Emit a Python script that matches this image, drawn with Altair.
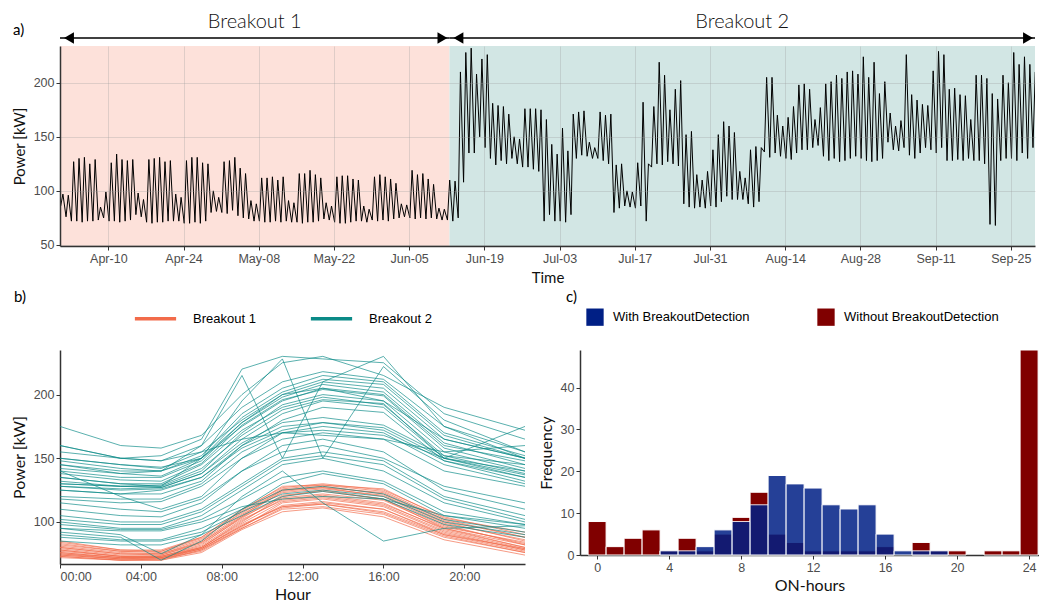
import altair as alt
import pandas as pd

# a) hourly power, summarised per day: night base and daytime peak (kW), 1 Apr - 29 Sep 2017
day_high = [
    97, 96, 127, 130, 131, 125, 129, 85, 99, 126, 134, 129, 128, 129, 98, 92,
    129, 130, 131, 127, 128, 97, 94, 128, 131, 131, 126, 125, 100, 94, 127, 128,
    131, 121, 116, 91, 88, 112, 112, 113, 110, 113, 91, 89, 116, 116, 119, 115,
    112, 89, 86, 113, 114, 114, 111, 110, 86, 83, 113, 115, 113, 111, 107, 88,
    87, 119, 115, 116, 111, 106, 84, 83, 110, 109, 210, 228, 232, 208, 222, 226,
    181, 179, 178, 171, 150, 148, 176, 176, 176, 175, 166, 143, 134, 158, 137, 171,
    173, 174, 145, 140, 173, 170, 171, 124, 125, 100, 99, 126, 182, 125, 178, 219,
    207, 175, 194, 202, 152, 155, 115, 110, 118, 138, 152, 164, 160, 154, 118, 112,
    138, 141, 140, 205, 205, 170, 160, 168, 178, 198, 199, 194, 166, 177, 199, 201,
    207, 204, 210, 211, 208, 224, 205, 219, 190, 201, 172, 160, 165, 226, 189, 184,
    180, 179, 211, 229, 226, 194, 195, 189, 188, 166, 207, 207, 204, 190, 185, 207,
    200, 228, 217, 224, 217, 210,
]
day_low = [
    86, 76, 72, 72, 71, 72, 72, 73, 75, 72, 72, 71, 72, 73, 78, 76,
    71, 70, 71, 71, 72, 72, 72, 70, 70, 71, 70, 72, 80, 81, 80, 79,
    82, 77, 75, 74, 72, 72, 71, 71, 72, 71, 72, 71, 71, 70, 71, 71,
    72, 74, 73, 71, 70, 70, 71, 72, 72, 71, 73, 72, 73, 72, 74, 75,
    76, 75, 74, 75, 74, 75, 74, 73, 73, 72, 75, 108, 135, 135, 150, 140,
    130, 124, 128, 125, 130, 125, 122, 122, 120, 118, 72, 78, 72, 72, 71, 78,
    130, 133, 132, 130, 130, 128, 125, 80, 84, 86, 85, 84, 86, 72, 122, 125,
    124, 127, 125, 123, 88, 85, 84, 85, 84, 86, 85, 90, 95, 92, 92, 92,
    88, 85, 90, 136, 131, 135, 132, 130, 129, 135, 138, 138, 140, 142, 132, 128,
    130, 127, 128, 130, 132, 130, 128, 127, 128, 130, 145, 138, 137, 140, 133, 130,
    135, 140, 138, 135, 140, 128, 128, 129, 128, 130, 128, 128, 125, 69, 68, 128,
    130, 130, 128, 135, 130, 140,
]
first_day = "2017-04-01"
breakout_start = "2017-04-01 00:00"
breakout_change = "2017-06-12 12:00"
breakout_end = "2017-09-29 12:00"
segment_labels = ["Breakout 1", "Breakout 2"]

# b) daily load profiles (kW) at these hours
profile_hours = [0, 3, 5, 7, 9, 11, 13, 16, 19, 23]
profiles_b1 = [
    [75, 72, 72, 80, 100, 120, 125, 118, 95, 80],
    [78, 73, 73, 82, 104, 124, 127, 120, 98, 82],
    [73, 70, 71, 78, 96, 115, 118, 112, 92, 78],
    [80, 75, 75, 84, 105, 125, 128, 122, 100, 85],
    [76, 72, 72, 79, 98, 112, 114, 108, 90, 77],
    [82, 77, 76, 86, 108, 126, 129, 124, 102, 88],
    [74, 71, 71, 77, 95, 110, 112, 106, 88, 76],
    [85, 78, 77, 88, 110, 127, 130, 125, 104, 90],
    [77, 73, 72, 80, 101, 118, 121, 115, 94, 80],
    [72, 70, 70, 76, 94, 108, 111, 104, 86, 74],
    [79, 74, 74, 83, 103, 121, 124, 118, 97, 83],
    [81, 76, 75, 85, 106, 123, 126, 121, 99, 86],
    [75, 71, 72, 79, 97, 113, 116, 110, 91, 78],
    [83, 77, 77, 87, 107, 125, 127, 123, 101, 88],
    [76, 72, 73, 80, 99, 116, 119, 113, 93, 79],
    [73, 70, 70, 78, 95, 111, 114, 107, 89, 76],
    [80, 75, 74, 84, 104, 119, 122, 117, 96, 84],
    [84, 78, 78, 88, 109, 128, 129, 126, 103, 92],
    [74, 71, 71, 79, 97, 112, 115, 110, 90, 79],
    [78, 73, 73, 81, 102, 117, 120, 114, 95, 82],
]
profiles_b2 = [
    [145, 140, 140, 150, 175, 195, 205, 200, 160, 148],
    [130, 128, 128, 140, 170, 192, 200, 195, 155, 140],
    [150, 145, 142, 155, 180, 200, 210, 205, 165, 150],
    [135, 130, 130, 145, 172, 190, 198, 192, 152, 138],
    [140, 135, 135, 148, 178, 198, 208, 202, 162, 145],
    [128, 126, 127, 138, 165, 185, 195, 190, 150, 135],
    [148, 142, 140, 152, 185, 205, 215, 210, 170, 152],
    [132, 128, 129, 142, 168, 188, 196, 193, 150, 137],
    [155, 150, 148, 160, 190, 210, 218, 212, 175, 155],
    [138, 133, 132, 146, 176, 196, 204, 199, 158, 142],
    [142, 138, 136, 150, 182, 202, 212, 208, 168, 150],
    [125, 122, 125, 135, 160, 180, 190, 186, 148, 132],
    [160, 150, 152, 165, 220, 230, 228, 225, 185, 165],
    [175, 160, 158, 168, 200, 225, 230, 215, 190, 172],
    [145, 138, 140, 160, 215, 150, 210, 230, 175, 150],
    [135, 130, 128, 150, 195, 228, 150, 222, 180, 155],
    [120, 118, 118, 130, 155, 170, 175, 170, 145, 130],
    [128, 125, 126, 135, 158, 172, 178, 172, 148, 135],
    [118, 115, 116, 128, 150, 165, 170, 165, 140, 128],
    [125, 122, 122, 132, 160, 175, 178, 174, 150, 140],
    [130, 128, 127, 138, 162, 178, 182, 176, 152, 145],
    [95, 93, 93, 100, 112, 118, 120, 118, 105, 98],
    [88, 85, 85, 92, 108, 122, 125, 120, 100, 90],
    [100, 95, 95, 105, 125, 145, 150, 140, 115, 100],
    [110, 105, 104, 115, 140, 160, 165, 155, 125, 110],
    [90, 86, 86, 95, 110, 125, 128, 122, 102, 92],
    [85, 82, 82, 90, 105, 120, 124, 118, 98, 88],
    [105, 100, 100, 110, 130, 150, 155, 148, 120, 105],
    [95, 90, 75, 90, 120, 140, 115, 85, 95, 97],
    [98, 94, 94, 102, 118, 135, 140, 132, 108, 98],
    [115, 110, 108, 118, 140, 155, 160, 150, 128, 115],
    [92, 88, 70, 85, 110, 130, 138, 130, 105, 95],
    [102, 98, 98, 108, 128, 148, 152, 145, 118, 102],
    [140, 120, 110, 120, 150, 170, 172, 168, 150, 175],
    [160, 150, 148, 155, 165, 170, 168, 165, 155, 160],
    [150, 145, 143, 150, 178, 200, 205, 195, 165, 150],
]

# c) histogram of daily ON-hours
on_hours = list(range(25))
freq_without = [8, 2, 4, 6, 1, 4, 1, 5, 9, 15, 5, 3, 1, 1, 1, 1, 2, 0, 3, 1, 1, 0, 1, 1, 49]
freq_with = [0, 0, 0, 0, 1, 1, 2, 6, 8, 12, 19, 17, 16, 12, 11, 12, 5, 1, 1, 1, 0, 0, 0, 0, 0]
methods = ["With BreakoutDetection", "Without BreakoutDetection"]

TITLE_FONT = "Lato"
TICK_FONT = "Liberation Sans"
ORANGE, TEAL = "#f26b4a", "#0b8a87"

# ---------- panel a ----------
rows = []
for d, lo, hi in zip(pd.date_range(first_day, periods=len(day_high), freq="D"), day_low, day_high):
    rows.append({"t": d + pd.Timedelta(hours=3), "p": lo})
    rows.append({"t": d + pd.Timedelta(hours=13), "p": hi})
ts = pd.DataFrame(rows)

t0, t1, t2 = pd.Timestamp(breakout_start), pd.Timestamp(breakout_change), pd.Timestamp(breakout_end)
seg = pd.DataFrame({
    "start": [t0, t1], "end": [t1, t2], "mid": [t0 + (t1 - t0) / 2, t1 + (t2 - t1) / 2],
    "label": segment_labels,
})


def dt(ts_):
    return alt.DateTime(year=ts_.year, month=ts_.month, date=ts_.day, hours=ts_.hour)


tick_days = [dt(d) for d in pd.date_range("2017-04-10", "2017-09-25", freq="14D")]
x_time = alt.X("t:T", title="Time",
               scale=alt.Scale(domain=[dt(t0), dt(t2)]),
               axis=alt.Axis(values=tick_days, format="%b-%d", grid=True, zindex=1))

shade1 = alt.Chart(seg.iloc[[0]]).mark_rect(color="#fde1da").encode(x="start:T", x2="end:T")
shade2 = alt.Chart(seg.iloc[[1]]).mark_rect(color="#d2e6e4").encode(x="start:T", x2="end:T")

power_line = alt.Chart(ts).mark_line(color="black", strokeWidth=1, clip=True).encode(
    x=x_time,
    y=alt.Y("p:Q", title="Power [kW]",
            scale=alt.Scale(domain=[49, 234], nice=False, zero=False),
            axis=alt.Axis(values=[50, 100, 150, 200], grid=True, zindex=1)),
)

arrows = alt.Chart(seg).mark_rule(color="black", strokeWidth=1.5).encode(
    x="start:T", x2="end:T", y=alt.value(-8))
head_left = alt.Chart(seg).mark_point(shape="triangle-left", filled=True, color="black",
                                      size=130, opacity=1, xOffset=9).encode(
    x="start:T", y=alt.value(-8))
head_right = alt.Chart(seg).mark_point(shape="triangle-right", filled=True, color="black",
                                       size=130, opacity=1, xOffset=-7).encode(
    x="end:T", y=alt.value(-8))
seg_text = alt.Chart(seg).mark_text(font=TITLE_FONT, fontSize=20, fontWeight=300,
                                    color="#111").encode(
    x="mid:T", y=alt.value(-24), text="label:N")
tag_a = alt.Chart(pd.DataFrame({"s": ["a)"]})).mark_text(
    font=TITLE_FONT, fontSize=15, align="left").encode(
    x=alt.value(-47), y=alt.value(-16), text="s:N")

panel_a = alt.layer(shade1, shade2, power_line, arrows, head_left, head_right,
                    seg_text, tag_a).properties(width=975, height=200)

# ---------- panel b ----------
prow = []
for name, profs in zip(segment_labels, [profiles_b1, profiles_b2]):
    for i, prof in enumerate(profs):
        for h, v in zip(profile_hours, prof):
            prow.append({"day": f"{name}-{i}", "breakout": name, "hour": h, "p": v})
prof_df = pd.DataFrame(prow)

color_b = alt.Color("breakout:N", title="",
                    scale=alt.Scale(domain=segment_labels, range=[ORANGE, TEAL]),
                    legend=alt.Legend(orient="none", legendX=73, legendY=-54,
                                      direction="horizontal", symbolType="stroke",
                                      symbolSize=1700, symbolStrokeWidth=3.5,
                                      symbolOpacity=1,
                                      labelFontSize=13, labelFont=TICK_FONT,
                                      labelOffset=15, columnPadding=47))


def profile_layer(name):
    return alt.Chart(prof_df).transform_filter(alt.datum.breakout == name).mark_line(
        strokeWidth=0.8, opacity=0.85).encode(
        x=alt.X("hour:Q", title="Hour", scale=alt.Scale(domain=[0, 23], nice=False),
                axis=alt.Axis(values=[0, 4, 8, 12, 16, 20], titleFontSize=16, titlePadding=4,
                              labelExpr="(datum.value < 10 ? '0' : '') + datum.value + ':00'")),
        y=alt.Y("p:Q", title="Power [kW]",
                scale=alt.Scale(domain=[67, 235], nice=False, zero=False),
                axis=alt.Axis(values=[100, 150, 200], titleFontSize=16)),
        color=color_b,
        detail="day:N",
        order="hour:Q",
    )


tag_b = alt.Chart(pd.DataFrame({"s": ["b)"]})).mark_text(
    font=TITLE_FONT, fontSize=15, align="left").encode(
    x=alt.value(-46), y=alt.value(-53), text="s:N")

panel_b = alt.layer(profile_layer(segment_labels[0]), profile_layer(segment_labels[1]),
                    tag_b).properties(width=465, height=214)

# ---------- panel c ----------
hrow = []
for name, counts in zip(methods, [freq_with, freq_without]):
    for h, c in zip(on_hours, counts):
        if c > 0:
            hrow.append({"method": name, "lo": h - 0.5, "hi": h + 0.5, "n": c})
hist_df = pd.DataFrame(hrow)

color_c = alt.Color("method:N", title="",
                    scale=alt.Scale(domain=methods, range=["#001f85", "#800000"]),
                    legend=alt.Legend(orient="none", legendX=6, legendY=-42,
                                      direction="horizontal", symbolType="square",
                                      symbolSize=300, symbolStrokeWidth=0,
                                      symbolOpacity=1,
                                      labelFontSize=13, labelFont=TICK_FONT,
                                      labelOffset=9, columnPadding=67, labelLimit=300))


def hist_layer(name, opacity):
    return alt.Chart(hist_df).transform_filter(alt.datum.method == name).mark_bar(
        stroke="white", strokeWidth=1, opacity=opacity).encode(
        x=alt.X("lo:Q", title="ON-hours",
                scale=alt.Scale(domain=[-0.95, 24.55], nice=False, zero=False),
                axis=alt.Axis(values=[0, 4, 8, 12, 16, 20, 24], titleFontSize=16,
                              titlePadding=4)),
        x2="hi:Q",
        y=alt.Y("n:Q", title="Frequency", scale=alt.Scale(domain=[0, 49], nice=False),
                axis=alt.Axis(values=[0, 10, 20, 30, 40], titleFontSize=16)),
        y2=alt.datum(0),
        color=color_c,
    )


tag_c = alt.Chart(pd.DataFrame({"s": ["c)"]})).mark_text(
    font=TITLE_FONT, fontSize=15, align="left").encode(
    x=alt.value(-14), y=alt.value(-53), text="s:N")

panel_c = alt.layer(hist_layer(methods[1], 1), hist_layer(methods[0], 0.85),
                    tag_c).properties(width=459, height=205)

bottom = alt.hconcat(panel_b, panel_c, spacing=11).resolve_scale(color="independent")

chart = alt.vconcat(panel_a, bottom, spacing=4).resolve_scale(
    color="independent"
).properties(
    padding={"left": 3, "top": 4, "right": 0, "bottom": 0}
).configure_view(
    strokeWidth=0
).configure_axis(
    labelFont=TICK_FONT, labelFontSize=12.5, labelColor="#4d4d4d",
    titleFont=TITLE_FONT, titleFontSize=15, titleFontWeight="normal", titleColor="#111",
    domainColor="#333333", domainWidth=1.5, tickColor="#333333", tickSize=4,
    gridColor="#9a9a9a", gridOpacity=0.3, gridWidth=1, grid=False,
    titlePadding=6, labelPadding=2,
)

chart.save("out.html", embed_options={"renderer": "svg", "actions": False})
